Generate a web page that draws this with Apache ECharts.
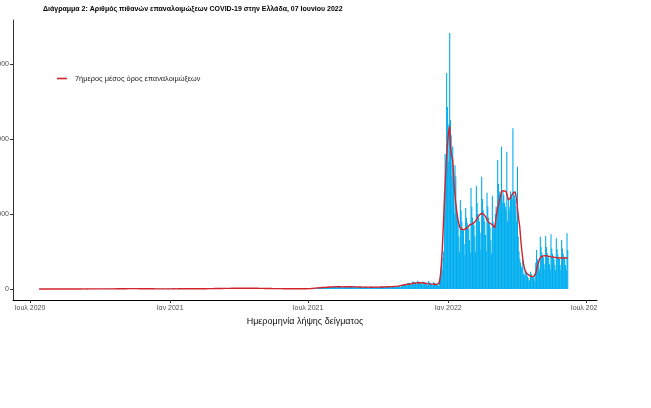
<!DOCTYPE html>
<html>
<head>
<meta charset="utf-8">
<script src="https://cdn.jsdelivr.net/npm/echarts@6/dist/echarts.min.js"></script>
<style>html,body{margin:0;padding:0;background:#fff}#c{width:651px;height:408px}</style>
</head>
<body>
<div id="c"></div>
<script>
// ---- DATA (daily values, starting 13 Jul 2020, ending 07 Jun 2022) ----
const startDate = '2020-07-13';
const seriesName = '7ήμερος μέσος όρος επαναλοιμώξεων';
const titleText = 'Διάγραμμα 2: Αριθμός πιθανών επαναλοιμώξεων COVID-19 στην Ελλάδα, 07 Ιουνίου 2022';
const xAxisTitle = 'Ημερομηνία λήψης δείγματος';
const xTickDates = ['2020-07-01','2021-01-01','2021-07-01','2022-01-01','2022-07-01'];
const xTickLabels = ['Ιουλ 2020','Ιαν 2021','Ιουλ 2021','Ιαν 2022','Ιουλ 2022'];
const yTicks = [0, 1000, 2000, 3000];

// daily probable reinfections
const daily2020 = [
 0,0,1,0,0,0,0,1,0,0,0,0,0,1,0,0,0,1,0,
 0,0,1,0,0,1,0,0,1,0,0,0,1,1,0,0,0,1,0,1,0,0,2,0,1,0,0,1,0,1,0,
 1,0,1,1,0,0,1,2,0,1,0,1,0,0,1,1,2,0,0,1,1,0,2,1,0,1,1,0,2,1,
 1,1,0,2,1,1,0,2,1,1,3,1,0,1,2,1,2,3,1,2,3,2,1,2,4,3,2,3,2,4,3,
 4,3,5,4,3,5,4,2,6,5,4,6,5,3,3,6,5,4,5,4,3,2,5,4,3,4,3,2,2,4,
 3,3,2,3,2,1,3,3,2,2,3,2,1,1,3,2,2,2,1,1,1,2,2,1,1,1,0,2,3,2,2
];
const daily2021a = [
 2,3,2,1,2,3,2,2,1,3,2,2,3,2,1,2,3,2,3,2,2,1,2,3,3,2,2,3,2,2,1,
 3,3,2,4,3,2,2,4,3,4,3,5,3,2,5,4,5,4,6,4,3,6,5,7,6,5,4,4,
 7,6,8,7,6,5,4,8,9,7,8,9,6,5,9,10,8,9,10,7,6,11,10,9,12,10,8,6,12,11,10,
 12,9,7,6,11,13,12,10,11,8,6,12,13,11,10,12,9,7,12,11,10,9,10,7,5,10,9,8,9,8,
 6,4,9,8,7,8,6,5,4,7,8,6,7,5,4,3,6,7,5,6,4,3,3,5,6,4,5,4,3,2,4,
 4,3,4,3,3,2,4,5,3,4,3,2,2,3,4,3,4,3,2,2,4,3,4,4,3,3,2,4,5,6
];
const daily2021b = [
 6,8,7,5,9,10,12,11,13,10,8,14,16,18,17,19,15,12,20,22,24,21,23,18,15,24,26,28,25,27,22,
 18,30,32,29,31,28,22,19,33,35,31,30,28,23,17,21,36,34,32,30,26,21,35,33,31,30,28,22,18,34,32,
 30,29,27,22,18,33,31,30,28,27,21,17,32,30,29,27,26,20,16,31,29,28,27,25,20,17,30,29,28,27,
 26,21,17,30,29,28,28,27,22,18,33,32,31,30,30,24,20,36,35,34,33,33,27,22,40,39,38,38,37,30,25,
 45,50,55,58,60,52,42,70,75,80,78,74,62,50,95,100,92,88,84,70,56,110,95,88,84,80,66,52,100,92,
 85,78,72,64,50,105,92,80,74,70,56,44,90,80,72,66,60,48,40,100,130,180,300,420,250,500,1300,1800,1500,2880,2427
];
const daily2022 = [
 1700,2200,3413,2250,2050,1500,1900,1600,1000,1650,1500,1100,950,900,700,500,1187,1050,900,800,780,600,450,1080,950,880,820,800,650,480,1347,
 1100,950,880,850,700,500,1377,1150,1000,950,900,750,520,1497,1200,1050,950,900,720,500,1284,1100,950,880,820,650,470,1244,
 900,850,800,1000,1100,900,1720,1400,1300,1250,1200,1897,1150,1300,1250,1150,1100,1050,1830,900,1200,1100,1050,1300,1250,1200,2143,1300,1250,1200,1100,
 900,1630,700,500,400,350,300,280,387,200,180,250,220,200,170,150,100,120,230,200,180,160,150,110,200,350,520,400,380,300,
 250,697,560,480,450,420,330,260,707,560,480,440,420,330,260,729,540,470,430,400,320,250,676,530,460,420,400,320,250,653,540,
 470,430,400,320,250,742,520
];

// 7-day mean
const avg2020 = [
 0.3,0.3,0.3,0.3,0.3,0.3,0.3,0.1,0.1,0.1,0.1,0.3,0.3,0.3,0.3,0.3,0.1,0.3,0.3,
 0.3,0.3,0.3,0.3,0.3,0.3,0.3,0.3,0.4,0.3,0.3,0.4,0.4,0.4,0.4,0.4,0.4,0.4,0.4,0.3,0.4,0.6,0.6,0.6,0.6,0.6,0.6,0.4,0.4,0.4,0.4,
 0.4,0.6,0.6,0.6,0.6,0.6,0.6,0.7,0.7,0.7,0.7,0.6,0.6,0.6,0.4,0.6,0.7,0.7,0.7,0.7,0.9,0.9,0.7,0.7,0.9,0.9,0.9,0.9,0.9,0.9,
 0.9,1.0,1.0,1.0,1.0,1.1,1.1,1.1,1.1,1.3,1.3,1.3,1.3,1.3,1.3,1.4,1.6,1.6,1.7,1.7,1.9,2.0,2.1,2.3,2.4,2.4,2.6,2.6,2.9,3.0,3.1,
 3.3,3.4,3.6,3.9,4.0,4.1,4.1,4.3,4.4,4.6,4.6,4.7,4.6,4.6,4.6,4.7,4.7,4.4,4.3,4.1,3.9,3.9,3.7,3.6,3.4,3.3,3.3,3.1,3.0,2.9,
 2.9,2.9,2.7,2.6,2.6,2.6,2.6,2.4,2.3,2.3,2.1,2.1,2.0,2.0,1.9,1.9,1.9,1.7,1.6,1.6,1.6,1.6,1.6,1.4,1.4,1.3,1.3,1.4,1.6,1.7,1.7
];
const avg2021a = [
 1.7,1.9,2.0,2.1,2.1,2.1,2.1,2.1,2.0,2.1,2.1,2.1,2.1,2.1,2.1,2.1,2.3,2.3,2.3,2.3,2.3,2.1,2.1,2.3,2.3,2.3,2.4,2.3,2.3,2.4,2.3,
 2.4,2.4,2.4,2.6,2.6,2.7,2.7,2.9,3.0,3.1,3.3,3.3,3.3,3.6,3.7,3.9,4.0,4.1,4.4,4.6,4.6,4.9,5.0,5.1,5.3,5.3,5.4,5.6,
 5.9,6.0,6.3,6.4,6.4,6.1,6.3,6.6,6.9,7.1,7.3,7.6,7.7,7.6,7.9,8.3,8.4,8.4,8.6,8.7,8.7,9.0,9.3,9.3,9.6,9.6,9.6,9.6,9.9,10.0,10.0,
 10.1,9.9,9.6,9.4,9.4,9.9,10.3,10.3,10.1,10.0,10.0,10.1,10.1,10.3,10.4,10.4,10.3,10.1,10.1,10.3,10.3,10.0,9.7,9.7,9.3,8.9,8.7,8.6,8.4,8.4,
 8.1,7.7,7.6,7.4,7.3,7.1,6.9,6.7,6.4,6.4,6.4,6.3,6.1,5.9,5.7,5.4,5.3,5.3,5.1,5.0,4.9,4.7,4.4,4.6,4.6,4.4,4.4,4.4,4.1,3.9,3.9,
 3.7,3.6,3.6,3.4,3.3,3.3,3.3,3.4,3.4,3.4,3.3,3.3,3.1,3.0,3.0,3.0,3.1,3.0,3.0,3.0,3.1,3.0,3.1,3.1,3.1,3.3,3.3,3.6,3.9,4.3
];
const avg2021b = [
 4.6,5.1,5.7,6.4,7.0,7.7,8.3,9.0,9.9,10.9,11.6,12.6,13.4,14.4,15.4,16.4,17.1,17.9,18.9,19.7,20.6,20.9,21.7,22.6,23.1,23.9,24.6,25.3,25.9,26.4,26.6,
 26.9,27.3,27.7,27.9,28.4,28.9,29.0,29.3,29.4,29.6,29.4,29.3,29.1,28.9,28.7,28.6,28.7,29.0,29.1,29.4,29.6,29.9,30.0,30.1,29.9,29.6,29.4,29.1,28.9,28.7,28.4,
 28.1,27.9,27.7,27.6,27.3,27.0,26.7,26.4,26.1,25.9,25.6,25.3,25.0,24.9,24.7,24.6,24.4,24.3,24.1,24.0,23.9,23.7,23.6,23.6,23.7,23.9,24.1,24.4,24.7,25.0,
 25.1,25.3,25.6,25.9,26.1,26.4,26.7,27.0,27.3,27.6,27.9,28.4,28.9,29.4,29.9,30.4,30.9,31.3,31.9,32.4,33.0,33.7,34.4,35.1,36.0,37.1,38.4,40.0,42.1,44.3,46.6,
 49.0,51.3,53.3,55.0,56.7,58.6,60.4,62.1,63.6,64.9,66.0,67.1,68.7,70.4,72.1,74.0,76.0,77.6,79.0,80.1,81.1,82.0,82.7,83.1,83.1,82.9,82.4,81.6,80.6,79.4,
 78.0,76.4,74.9,73.4,72.0,70.7,69.4,68.1,66.9,65.9,65.0,64.0,63.3,62.6,62.0,61.4,60.6,60.0,62,75,120,200,320,480,700,920,1150,1380,1590,1780,1920
];
const avg2022 = [
 2030,2120,2170,1900,1810,1760,1720,1550,1365,1250,1150,1053,980,920,870,830,810,800,790,787,790,795,800,800,800,810,825,840,853,858,862,
 865,867,875,885,895,908,920,940,958,975,987,998,1006,1011,1013,1005,992,978,964,945,925,905,890,880,875,870,868,867,
 850,830,813,870,950,1020,1080,1125,1164,1210,1260,1300,1320,1318,1312,1305,1300,1297,1270,1230,1190,1164,1180,1215,1245,1265,1276,1285,1292,1297,1297,
 1187,1080,980,900,830,700,580,480,400,330,280,250,225,210,200,192,185,178,172,168,165,164,165,168,173,210,255,297,335,370,
 400,418,427,433,438,441,443,444,444,443,441,439,436,433,431,429,428,427,426,424,422,420,418,416,415,414,413,413,413,413,414,
 414,414,413,413,413,413,413
];

// ---- BUILD ----
const DAY = 86400000;
const t0 = Date.parse(startDate + 'T00:00:00Z');
const toPairs = arr => arr.map((v, i) => [t0 + i * DAY, v]);
const dailyAll = toPairs([].concat(daily2020, daily2021a, daily2021b, daily2022));
const avgAll = toPairs([].concat(avg2020, avg2021a, avg2021b, avg2022));
const tickTimes = xTickDates.map(d => Date.parse(d + 'T00:00:00Z'));
const labelMap = {};
tickTimes.forEach((t, i) => labelMap[t] = xTickLabels[i]);

const FONT = '"Liberation Sans", Arial, sans-serif';
const chart = echarts.init(document.getElementById('c'), null, {renderer: 'canvas'});
chart.setOption({
  animation: false,
  backgroundColor: '#ffffff',
  title: {
    text: titleText,
    left: 43, top: 6, padding: 0,
    textStyle: {fontFamily: FONT, fontSize: 7, fontWeight: 'bold', color: '#000'}
  },
  legend: {
    data: [{name: seriesName, icon: 'rect'}],
    left: 57, top: 75, padding: 0,
    itemWidth: 10, itemHeight: 1.6,
    itemGap: 4,
    textStyle: {fontFamily: FONT, fontSize: 7.4, color: '#222', padding: [0, 0, 0, 3]}
  },
  grid: {left: 13, right: 54, top: 20, bottom: 108, containLabel: false, outerBoundsMode: 'none'},
  xAxis: {
    type: 'value',
    min: Date.parse('2020-06-09T00:00:00Z') - 0.3 * DAY,
    max: Date.parse('2022-07-15T00:00:00Z') + 0.4 * DAY,
    name: xAxisTitle,
    nameLocation: 'middle',
    nameGap: 17,
    nameTextStyle: {fontFamily: FONT, fontSize: 9, color: '#111'},
    axisLine: {onZero: false, lineStyle: {color: '#000', width: 1}},
    axisTick: {show: true, length: 3, lineStyle: {color: '#333'}, customValues: tickTimes},
    axisLabel: {
      customValues: tickTimes,
      fontFamily: FONT, fontSize: 7, color: '#4d4d4d', margin: 5,
      formatter: v => labelMap[v] || ''
    },
    splitLine: {show: false}
  },
  yAxis: {
    type: 'value',
    min: -147, max: 3587,
    axisLine: {show: true, onZero: false, lineStyle: {color: '#333', width: 1}},
    axisTick: {show: true, length: 3, lineStyle: {color: '#333'}, customValues: yTicks},
    axisLabel: {
      customValues: yTicks,
      fontFamily: FONT, fontSize: 7, color: '#4d4d4d', margin: 4,
      formatter: v => String(v)
    },
    splitLine: {show: false}
  },
  series: [
    {
      name: 'daily',
      type: 'bar',
      data: dailyAll,
      barWidth: 1.1,
      itemStyle: {color: '#00AEEF'},
      z: 2
    },
    {
      name: seriesName,
      type: 'line',
      data: avgAll,
      showSymbol: false,
      lineStyle: {color: '#D0232B', width: 1.4},
      itemStyle: {color: '#D0232B'},
      z: 3
    }
  ],
  graphic: [{
    type: 'rect', z: 100, silent: true,
    shape: {x: 598, y: 302, width: 53, height: 14},
    style: {fill: '#ffffff'}
  }]
});
</script>
</body>
</html>
